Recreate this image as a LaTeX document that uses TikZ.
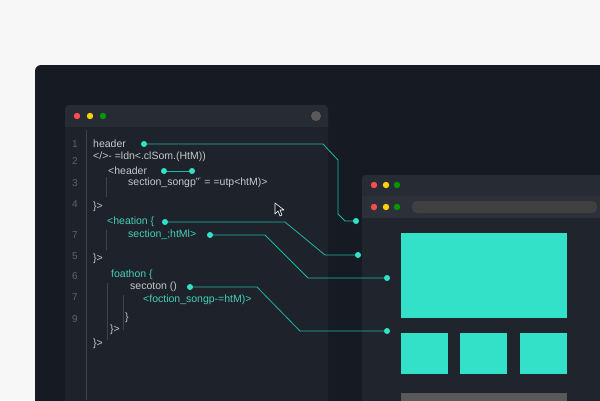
\documentclass[tikz,border=0pt]{standalone}
\usepackage{fontspec}
\setmainfont{Liberation Sans}
\usetikzlibrary{positioning}
\definecolor{pagebg}{HTML}{F7F7F8}
\definecolor{panel}{HTML}{161B23}
\definecolor{editor}{HTML}{1E232B}
\definecolor{browser}{HTML}{20252D}
\definecolor{bar}{HTML}{272C34}
\definecolor{urlbar}{HTML}{2C3139}
\definecolor{codetxt}{HTML}{C3C8CF}
\definecolor{codeteal}{HTML}{46CDB8}
\definecolor{numtxt}{HTML}{5D636C}
\definecolor{teal}{HTML}{33E0C8}
\definecolor{wire}{HTML}{1FB5A6}
\tikzset{
    code/.style={anchor=west, inner sep=0pt, text=codetxt, font=\fontsize{10.5}{12}\selectfont},
    tcode/.style={code, text=codeteal},
    num/.style={anchor=center, inner sep=0pt, text=numtxt, font=\fontsize{10}{12}\selectfont},
    dot/.style={circle, fill=teal, inner sep=0pt, minimum size=6pt},
    wire/.style={draw=wire, line width=0.8pt},
    block/.style={fill=teal}
}
\begin{document}
\begin{tikzpicture}[x=1pt, y=-1pt]
    \useasboundingbox (0,0) rectangle (600,400);
    \fill[pagebg] (0,0) rectangle (600,400);
    % --- dark panel ---
    \fill[panel, rounded corners=6pt] (35,65) rectangle (620,420);

    % --- editor window ---
    \fill[editor, rounded corners=4pt] (65,105) rectangle (328,420);
    \fill[bar, rounded corners=4pt] (65,105) rectangle (328,127);
    \fill[bar] (65,118) rectangle (328,127);
    \fill[red!70!white] (77,116) circle (3.2);
    \fill[yellow!70!orange] (90,116) circle (3.2);
    \fill[green!60!black] (103,116) circle (3.2);
    \fill[gray!70!black] (316,116) circle (5);
    \draw[numtxt!50!editor] (86,130) -- (86,400);
    \draw[numtxt!50!editor] (106,177) -- (106,197);
    \draw[numtxt!50!editor] (106,230) -- (106,250);
    \draw[numtxt!50!editor] (123,295) -- (123,330);
    \draw[numtxt!50!editor] (107,283) -- (107,340);

    % line numbers
    \foreach \n/\y in {1/144, 2/161, 3/183, 4/204, 7/235, 5/256, 6/276, 7/297, 9/319}
        \node[num] at (75,\y) {\n};

    % code lines
    \node[code] (c1) at (93,144) {header};
    \node[code] (c2) at (93,157) {</>- =ldn<.clSom.(HtM))};
    \node[code] (c3) at (108,171) {<header};
    \node[code] (c4) at (128,183) {section\_songp"\textsuperscript{\tiny ''} = =utp<htM)>};
    \node[code] (c5) at (93,207) {\}>};
    \node[tcode] (c6) at (107,222) {<heation \{};
    \node[tcode] (c7) at (128,235) {section\_;htMl>};
    \node[code] (c8) at (93,259) {\}>};
    \node[tcode] (c9) at (111,275) {foathon \{};
    \node[code] (c10) at (130,287) {secoton ()};
    \node[tcode] (c11) at (143,300) {<foction\_songp-=htM)>};
    \node[code] (c12) at (125,318) {\}};
    \node[code] (c13) at (110,330) {\}>};
    \node[code] (c14) at (93,344) {\}>};

    % cursor
    \draw[white, fill=panel, line width=0.6pt, line join=round]
        (275,203) -- (275,214) -- (278,211) -- (280,216) -- (282,215) -- (280,210) -- (284,210) -- cycle;

    % --- browser window ---
    \fill[browser, rounded corners=4pt] (362,175) rectangle (620,420);
    \fill[bar, rounded corners=4pt] (362,175) rectangle (620,196);
    \fill[bar] (362,188) rectangle (620,196);
    \fill[urlbar] (362,196) rectangle (620,218);
    \foreach \x/\c in {374/red!70!white, 386/yellow!70!orange, 397/green!60!black} {
        \fill[\c] (\x,185) circle (3.2);
        \fill[\c] (\x,207) circle (3.2);
    }
    \fill[gray!50!black, rounded corners=5pt] (412,201) rectangle (597,213);
    \fill[block] (401,233) rectangle (567,318);
    \fill[block] (401,333) rectangle (448,374);
    \fill[block] (460,333) rectangle (507,374);
    \fill[block] (520,333) rectangle (567,374);
    \fill[gray!70!black] (401,393) rectangle (567,402);

    % --- connector dots ---
    \node[dot] (d1) at (144,144) {};
    \node[dot] (d2a) at (164,171) {};
    \node[dot] (d2b) at (192,171) {};
    \node[dot] (d3) at (165,222) {};
    \node[dot] (d4) at (210,235) {};
    \node[dot] (d5) at (190,287) {};
    \node[dot] (e1) at (356,221) {};
    \node[dot] (e3) at (358,255) {};
    \node[dot] (e4) at (387,278) {};
    \node[dot] (e5) at (387,331) {};

    % --- connectors ---
    \draw[wire] (d1) -- (323,144) -- (338,160) -- (338,214) -- (345,221) -- (e1);
    \draw[wire] (d2a) -- (d2b);
    \draw[wire] (d3) -- (285,222) -- (325,255) -- (e3);
    \draw[wire] (d4) -- (265,235) -- (308,278) -- (e4);
    \draw[wire] (d5) -- (257,287) -- (300,331) -- (e5);
\end{tikzpicture}
\end{document}
